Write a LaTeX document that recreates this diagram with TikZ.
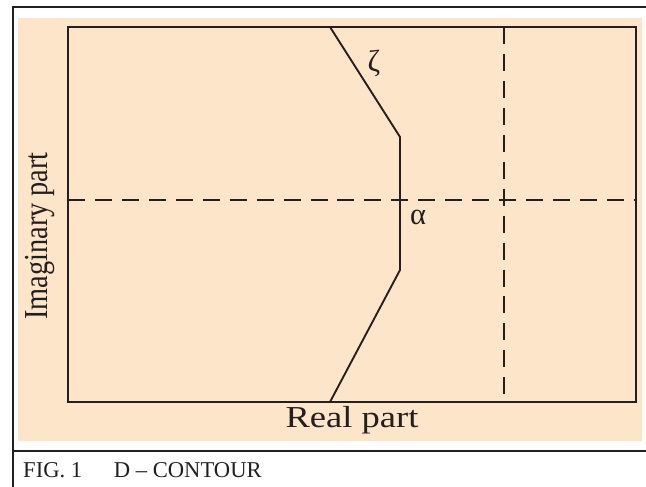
\documentclass[tikz,border=0pt]{standalone}
\usepackage{fontspec}
\setmainfont{Liberation Serif}
\definecolor{peach}{RGB}{253,229,202}
\definecolor{ink}{RGB}{35,31,32}
\tikzset{
	frameline/.style={draw=ink, line width=1.6pt},
	axisline/.style={draw=ink, line width=1.6pt, dash pattern=on 14.5pt off 8.5pt},
	contour/.style={draw=ink, line width=1.6pt, line join=miter},
	lbl/.style={inner sep=0pt, text=ink, font=\fontsize{26}{30}\selectfont},
}

\begin{document}
\begin{tikzpicture}[x=0.03cm, y=-0.03cm]
	\useasboundingbox (0, 0) rectangle (646, 487);
	\fill[peach] (18, 18) rectangle (642, 441);
	\coordinate (TL) at (13, 7);
	\coordinate (TR) at (646, 7);
	\coordinate (BL) at (13, 487);
	\coordinate (SL) at (13, 451);
	\coordinate (SR) at (646, 451);
	\draw[frameline] (TR) -- (TL) -- (BL);
	\draw[frameline] (SL) -- (SR);
	\draw[frameline] (68, 27) rectangle (636, 402);
	\coordinate (Z1) at (330, 27);
	\coordinate (Z2) at (400, 137);
	\coordinate (Z3) at (400, 270);
	\coordinate (Z4) at (330, 402);
	\draw[contour] (Z1) -- (Z2) -- (Z3) -- (Z4);
	\coordinate (H1) at (68, 200);
	\coordinate (H2) at (636, 200);
	\coordinate (V1) at (504, 27);
	\coordinate (V2) at (504, 402);
	\draw[axisline] (H1) -- (H2);
	\draw[axisline] (V1) -- (V2);
	\node[lbl] (zeta) at (374, 64) {ζ};
	\node[lbl] (alpha) at (418, 217) {α};
	\node[lbl, anchor=base] (re) at (352, 427) {\scalebox{1.2}[1]{Real part}};
	\node[lbl, rotate=90, anchor=base] (im) at (47, 236) {\scalebox{0.93}[1.1]{Imaginary part}};
	\node[inner sep=0pt, anchor=base west, text=ink, font=\fontsize{19.3}{22}\selectfont] (cap) at (23, 477) {FIG. 1\hspace{27pt}D – CONTOUR};
\end{tikzpicture}
\end{document}
